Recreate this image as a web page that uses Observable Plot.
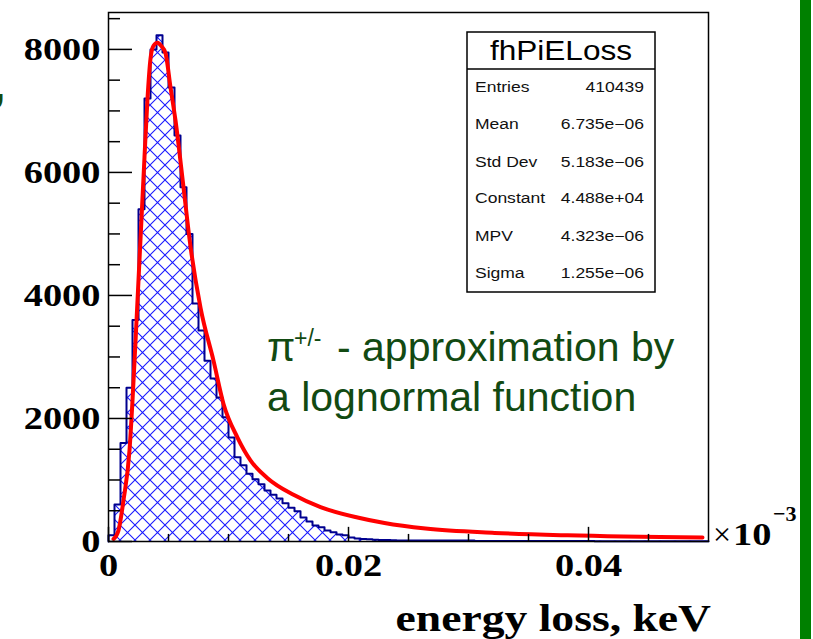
<!DOCTYPE html>
<html>
<head>
<meta charset="utf-8">
<script src="https://cdn.jsdelivr.net/npm/d3@7"></script>
<script src="https://cdn.jsdelivr.net/npm/@observablehq/plot@0.6"></script>
<style>
  html, body { margin: 0; padding: 0; background: #ffffff; }
  #wrap { position: relative; width: 813px; height: 639px; overflow: hidden; background: #ffffff; }
  #greenbar { position: absolute; left: 800px; top: 0; width: 11px; height: 639px; background: #008000; }
  #wrap svg { position: absolute; left: 0; top: 0; }
</style>
</head>
<body>
<div id="wrap"><div id="greenbar"></div></div>
<script>
// ---------- data ----------
const binWidth = 0.0005; // histogram bin width (x axis in units of 10^-3 keV)
const piCounts = [
  100, 600, 1600, 2500, 3600, 5400, 7200, 8000, 8230, 7950,
  7380, 6600, 5760, 5000, 3870, 3430, 2940, 2650, 2340, 2020,
  1690, 1370, 1240, 1100, 1010, 930, 830, 760, 700, 620,
  550, 490, 390, 325, 260, 230, 180, 150, 115, 100,
  65, 50, 40, 35, 30, 25, 25, 20, 15, 15,
  15, 15, 15, 15, 15, 15, 15, 15, 15, 15,
  15, 10, 10, 10, 10, 10, 10, 10, 10, 10,
  10, 10, 10, 10, 10, 10, 10, 10, 10, 10,
  10, 5, 5, 5, 5, 5, 5, 5, 5, 5,
  5, 5, 5, 5, 5, 5, 5, 5, 5, 5
];
const fitX = [0.00042, 0.00083, 0.00125, 0.00175, 0.002, 0.00225, 0.0025, 0.00275, 0.003, 0.00325,
  0.0035, 0.00375, 0.00408, 0.00442, 0.00475, 0.00517, 0.00558, 0.00625, 0.00683, 0.00767,
  0.00875, 0.00958, 0.01075, 0.01183, 0.01325, 0.01542, 0.01767, 0.02075, 0.023, 0.02642,
  0.03217, 0.03825, 0.0495];
const fitY = [40, 180, 670, 1480, 2290, 3250, 4250, 5250, 6250, 7200,
  7850, 8060, 8110, 8050, 7940, 7380, 6850, 5760, 4800, 3800,
  2940, 2240, 1690, 1320, 1030, 760, 560, 390, 300, 210,
  140, 100, 65];

const yTicks = [0, 2000, 4000, 6000, 8000];
const yTickLabels = ["0", "2000", "4000", "6000", "8000"];
const xTicks = [0, 0.02, 0.04];
const xTickLabels = ["0", "0.02", "0.04"];
const xTitle = "energy loss, keV";
const histName = "fhPiELoss";
const statsNames = ["Entries", "Mean", "Std Dev", "Constant", "MPV", "Sigma"];
const statsValues = ["410439", "6.735e\u221206", "5.183e\u221206", "4.488e+04", "4.323e\u221206", "1.255e\u221206"];
const annoLine1Main = "\u03c0";
const annoLine1Sup = "+/-";
const annoLine1Rest = "- approximation by";
const annoLine2 = "a lognormal function";

// ---------- derived tables ----------
const hist = [{x: 0, y: 0}];
piCounts.forEach((c, i) => hist.push({x: i * binWidth, y: c}));
hist.push({x: piCounts.length * binWidth, y: piCounts[piCounts.length - 1]});
const fit = fitX.map((x, i) => ({x, y: fitY[i]}));
const yMinor = d3.range(500, 8600, 500).filter(v => v % 2000 !== 0);
const xMinor = d3.range(1, 10).map(k => k * 0.005).filter(v => Math.abs(v / 0.02 - Math.round(v / 0.02)) > 1e-6);

const serif = "'Liberation Serif', 'Times New Roman', serif";
const sans = "'Liberation Sans', Arial, Helvetica, sans-serif";

const chart = Plot.plot({
  width: 813,
  height: 639,
  marginLeft: 108,
  marginRight: 105,
  marginTop: 12,
  marginBottom: 98,
  x: {domain: [0, 0.05], axis: null},
  y: {domain: [0, 8600], axis: null},
  style: {background: "transparent", overflow: "visible"},
  marks: [
    Plot.areaY(hist, {x: "x", y: "y", curve: "step-after", fill: "url(#hatch)"}),
    Plot.lineY(hist, {x: "x", y: "y", curve: "step-after", stroke: "#00008f", strokeWidth: 2}),
    Plot.line(fit, {x: "x", y: "y", curve: "monotone-x", stroke: "#ff0000", strokeWidth: 4}),
    Plot.ruleY(yTicks, {y: d => d, x1: 0, x2: 0.002, stroke: "black", strokeWidth: 1.5}),
    Plot.ruleY(yMinor, {y: d => d, x1: 0, x2: 0.001, stroke: "black", strokeWidth: 1.5}),
    Plot.ruleX(xTicks, {x: d => d, y1: 0, y2: 230, stroke: "black", strokeWidth: 1.5}),
    Plot.ruleX(xMinor, {x: d => d, y1: 0, y2: 115, stroke: "black", strokeWidth: 1.5}),
    Plot.frame({stroke: "black", strokeWidth: 1.5}),
    Plot.text(yTicks, {x: 0, y: d => d, text: (d, i) => yTickLabels[i], dx: -8, textAnchor: "end",
      fontFamily: serif, fontWeight: "bold", fontSize: 32, fill: "black"}),
    Plot.text(xTicks, {x: d => d, y: 0, text: (d, i) => xTickLabels[i], dy: 24, textAnchor: "middle",
      fontFamily: serif, fontWeight: "bold", fontSize: 32, fill: "black"})
  ]
});

const wrap = document.getElementById("wrap");
wrap.appendChild(chart);
const svg = d3.select(chart);

// hatch pattern
const defs = svg.insert("defs", ":first-child");
const hs = 15;
const pat = defs.append("pattern").attr("id", "hatch").attr("patternUnits", "userSpaceOnUse")
  .attr("width", hs).attr("height", hs);
pat.append("path")
  .attr("d", `M0,0L${hs},${hs}M${hs},0L0,${hs}M-2,${hs - 2}L2,${hs + 2}M${hs - 2},-2L${hs + 2},2M-2,2L2,-2M${hs - 2},${hs + 2}L${hs + 2},${hs - 2}`)
  .attr("stroke", "#1a1aff").attr("stroke-width", 1.1).attr("fill", "none");

function stretch(sel, f) {
  sel.each(function () {
    const L = this.getComputedTextLength();
    this.setAttribute("textLength", (L * f).toFixed(1));
    this.setAttribute("lengthAdjust", "spacingAndGlyphs");
  });
}
stretch(svg.selectAll('g[aria-label="text"] text'), 1.2);

const extra = svg.append("g").attr("text-anchor", "start");
// x title
const xt = extra.append("text").attr("x", 711).attr("y", 631).attr("text-anchor", "end")
  .attr("font-family", serif).attr("font-weight", "bold").attr("font-size", 38).attr("fill", "black").text(xTitle);
stretch(xt, 1.2);
// x10^-3
extra.append("text").attr("x", 713).attr("y", 545).attr("text-anchor", "start").attr("font-family", serif)
  .attr("font-size", 32).attr("fill", "black").text("\u00d7");
const ex1b = extra.append("text").attr("x", 733).attr("y", 545).attr("text-anchor", "start").attr("font-family", serif)
  .attr("font-weight", "bold").attr("font-size", 32).attr("fill", "black").text("10");
stretch(ex1b, 1.2);
extra.append("text").attr("x", 773).attr("y", 521).attr("text-anchor", "start").attr("font-family", serif)
  .attr("font-weight", "bold").attr("font-size", 22).attr("fill", "black").text("\u22123");

// stats box
const box = extra.append("g");
box.append("rect").attr("x", 467).attr("y", 32).attr("width", 188).attr("height", 260)
  .attr("fill", "white").attr("stroke", "black").attr("stroke-width", 1.5);
box.append("line").attr("x1", 467).attr("x2", 655).attr("y1", 69).attr("y2", 69)
  .attr("stroke", "black").attr("stroke-width", 1.5);
const tt = box.append("text").attr("x", 561).attr("y", 60).attr("text-anchor", "middle")
  .attr("font-family", sans).attr("font-size", 27).attr("fill", "black").text(histName);
stretch(tt, 1.17);
const rowY = [87, 124, 162, 198, 236, 273];
statsNames.forEach((n, i) => {
  const a = box.append("text").attr("x", 475).attr("y", rowY[i] + 5).attr("text-anchor", "start")
    .attr("font-family", sans).attr("font-size", 14).attr("fill", "#111").text(n);
  const b = box.append("text").attr("x", 644).attr("y", rowY[i] + 5).attr("text-anchor", "end")
    .attr("font-family", sans).attr("font-size", 14).attr("fill", "#111").text(statsValues[i]);
  stretch(a, 1.25); stretch(b, 1.25);
});

// annotation (overlaid text)
const green = "#124a12";
extra.append("text").attr("x", 267).attr("y", 361).attr("text-anchor", "start").attr("font-family", sans)
  .attr("font-size", 41).attr("fill", green).text(annoLine1Main);
extra.append("text").attr("x", 294).attr("y", 346).attr("text-anchor", "start").attr("font-family", sans)
  .attr("font-size", 23).attr("fill", green).text(annoLine1Sup);
extra.append("text").attr("x", 337).attr("y", 361).attr("text-anchor", "start").attr("font-family", sans)
  .attr("font-size", 41).attr("fill", green).text(annoLine1Rest);
extra.append("text").attr("x", 267).attr("y", 411).attr("text-anchor", "start").attr("font-family", sans)
  .attr("font-size", 41).attr("fill", green).text(annoLine2);
// cut-off comma at left edge of slide
extra.append("text").attr("x", -6).attr("y", 100).attr("text-anchor", "start").attr("font-family", sans)
  .attr("font-weight", "bold").attr("font-size", 40).attr("fill", green).text(",");
</script>
</body>
</html>
